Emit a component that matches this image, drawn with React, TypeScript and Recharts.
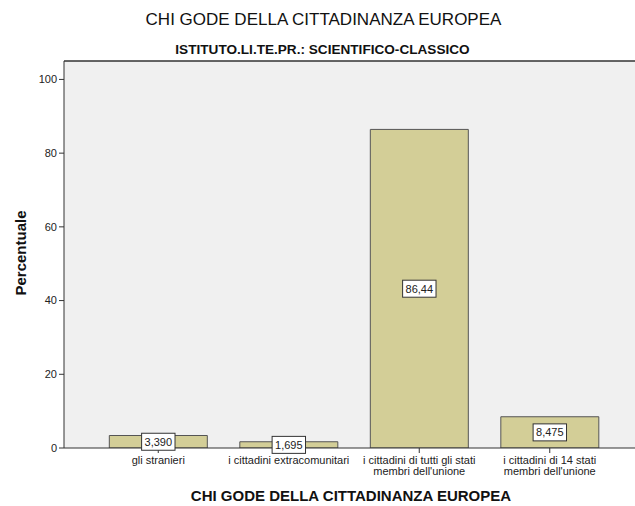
import React from 'react';
import { BarChart, Bar, XAxis, YAxis, CartesianGrid, ReferenceLine, LabelList } from 'recharts';

const CATEGORIES = [
  'gli stranieri',
  'i cittadini extracomunitari',
  "i cittadini di tutti gli stati\nmembri dell'unione",
  "i cittadini di 14 stati\nmembri dell'unione",
];
const PERCENTS = [3.39, 1.695, 86.44, 8.475];
const Y_TICKS = [0, 20, 40, 60, 80, 100];

const TITLE = 'CHI GODE DELLA CITTADINANZA EUROPEA';
const SUBTITLE = 'ISTITUTO.LI.TE.PR.: SCIENTIFICO-CLASSICO';
const X_TITLE = 'CHI GODE DELLA CITTADINANZA EUROPEA';
const Y_TITLE = 'Percentuale';

const data = CATEGORIES.map((name, i) => ({ name, value: PERCENTS[i] }));

const FONT = '"Liberation Sans", Arial, sans-serif';
const INK = '#222';

// spss style: 4 significant digits, comma decimal
const fmt = (v: number) => v.toPrecision(4).replace('.', ',');

const CategoryTick = ({ x, y, payload }: any) => {
  const lines = String(payload.value).split('\n');
  return (
    <text x={x} y={y} textAnchor="middle" fontSize={11} fill={INK} fontFamily={FONT}>
      {lines.map((l, i) => (
        <tspan key={i} x={x} dy={i === 0 ? 9 : 11}>{l}</tspan>
      ))}
    </text>
  );
};

const ValueBox = (props: any) => {
  const { x, y, width, height, value } = props;
  const txt = fmt(Number(value));
  const commas = (txt.match(/,/g) || []).length;
  const w = (txt.length - commas) * 6.1 + commas * 3 + 6;
  const h = 17;
  const cx = x + width / 2;
  const cy = y + height / 2;
  return (
    <g>
      <rect x={cx - w / 2} y={cy - h / 2} width={w} height={h} fill="#fff" stroke="#333" strokeWidth={1} />
      <text x={cx} y={cy + 4} textAnchor="middle" fontSize={11} fill={INK} fontFamily={FONT}>{txt}</text>
    </g>
  );
};

const YTitle = () => {
  const cy = 253;
  return (
    <text x={26} y={cy} transform={`rotate(-90, 26, ${cy})`} textAnchor="middle" fontSize={15} fontWeight="bold" fill="#111" fontFamily={FONT}>
      {Y_TITLE}
    </text>
  );
};

const XTitle = () => (
  <text x={351} y={501} textAnchor="middle" fontSize={15} fontWeight="bold" fill="#111" fontFamily={FONT}>
    {X_TITLE}
  </text>
);

export default function App() {
  return (
    <div style={{ position: 'absolute', left: 0, top: 0, width: 635, height: 506, background: '#fff', overflow: 'hidden' }}>
      <div style={{ position: 'absolute', left: 0, top: 10, width: 647, textAlign: 'center', fontFamily: FONT, fontSize: 17, lineHeight: '19px', color: '#111' }}>
        {TITLE}
      </div>
      <div style={{ position: 'absolute', left: 0, top: 42, width: 645, textAlign: 'center', fontFamily: '"Liberation Sans Narrow", ' + FONT, fontSize: 13.6, fontWeight: 'bold', lineHeight: '15px', color: '#111' }}>
        {SUBTITLE}
      </div>
      <BarChart
        width={635}
        height={506}
        data={data}
        margin={{ top: 61, right: 0, bottom: 0, left: 0 }}
        barCategoryGap="12.5%"
      >
        <CartesianGrid fill="#f0f0f0" horizontal={false} vertical={false} />
        <YAxis
          width={64}
          domain={[0, 105]}
          ticks={Y_TICKS}
          allowDataOverflow
          tickSize={5}
          tick={{ fontSize: 11, fill: INK, fontFamily: FONT }}
          axisLine={{ stroke: '#333' }}
          tickLine={{ stroke: '#333' }}
          label={<YTitle />}
        />
        <XAxis
          dataKey="name"
          height={58}
          interval={0}
          padding={{ left: 29, right: 20 }}
          tickSize={5}
          tick={<CategoryTick />}
          axisLine={{ stroke: '#333' }}
          tickLine={{ stroke: '#333' }}
          label={<XTitle />}
        />
        <ReferenceLine y={105} stroke="#333" strokeWidth={1.5} />
        <Bar dataKey="value" fill="#d3ce97" stroke="#555" strokeWidth={1} isAnimationActive={false}>
          <LabelList dataKey="value" content={<ValueBox />} />
        </Bar>
      </BarChart>
    </div>
  );
}
